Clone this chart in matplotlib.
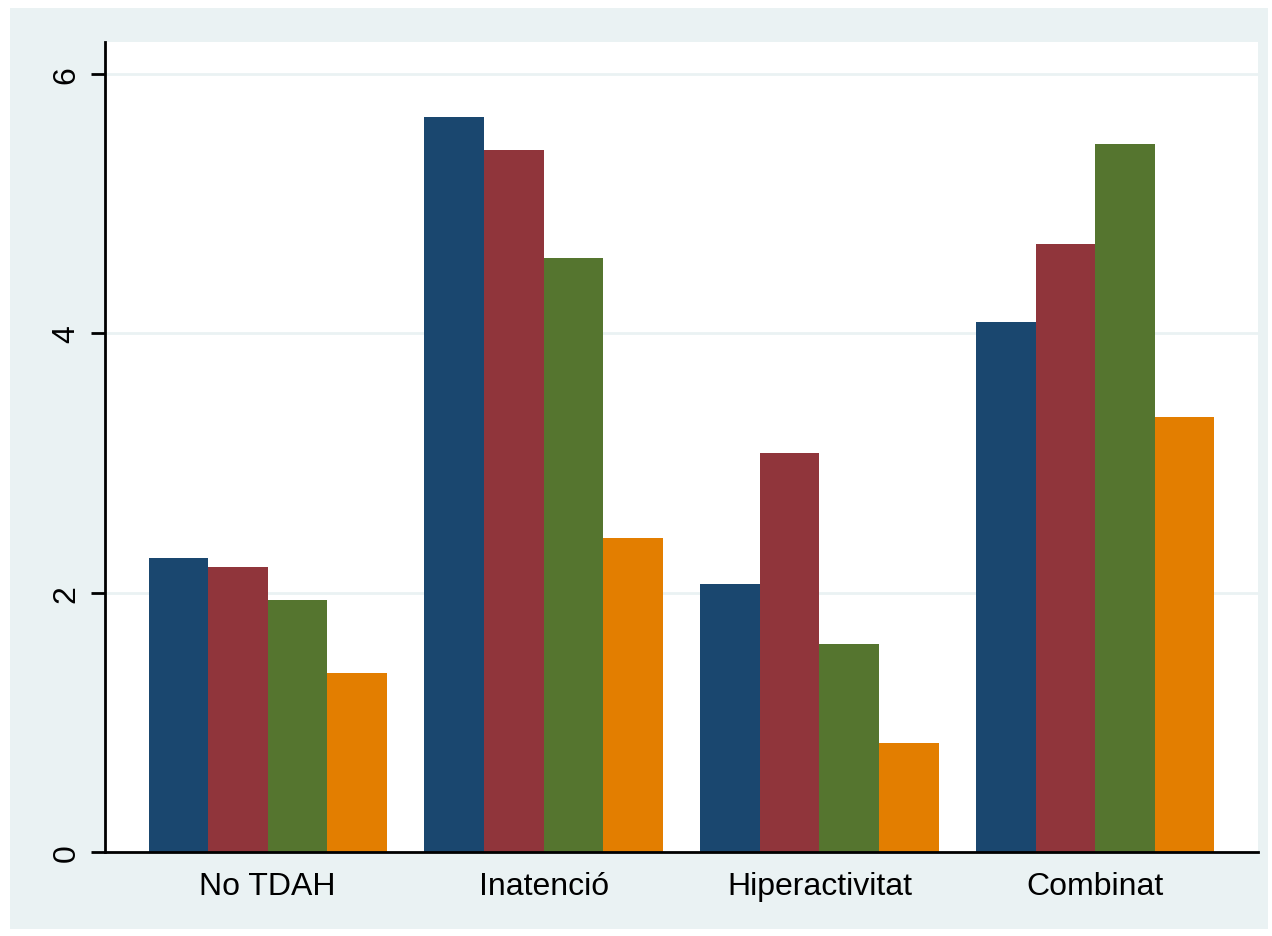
import matplotlib.pyplot as plt
from matplotlib.patches import Rectangle
import numpy as np

plt.rcParams['font.family'] = ['Liberation Sans', 'DejaVu Sans']

categories = ["No TDAH", "Inatenció", "Hiperactivitat", "Combinat"]
serie_1 = [2.27, 5.67, 2.07, 4.09]
serie_2 = [2.20, 5.41, 3.08, 4.69]
serie_3 = [1.94, 4.58, 1.60, 5.46]
serie_4 = [1.38, 2.42, 0.84, 3.35]
series = [serie_1, serie_2, serie_3, serie_4]
colors = ["#1A476F", "#90353B", "#55752F", "#E37E00"]
yticks = [0, 2, 4, 6]

W, H = 1272, 937
fig = plt.figure(figsize=(W / 100, H / 100), dpi=100)
fig.patch.set_facecolor("white")
fig.patches.append(Rectangle((10 / W, 7 / H), 1258 / W, 921 / H,
                             transform=fig.transFigure, facecolor="#EAF2F3",
                             edgecolor="none", zorder=-10))

ax = fig.add_axes([105 / W, (H - 853) / H, (1258 - 105) / W, (853 - 43) / H])
ax.set_facecolor("white")

x = np.arange(len(categories))
width = 0.216
for i, (vals, c) in enumerate(zip(series, colors)):
    ax.bar(x + (i - 1.5) * width, vals, width=width, color=c,
           edgecolor="none", zorder=2)

ax.set_xlim(-0.59, 3.59)
ax.set_ylim(0, 6.245)
ax.set_yticks(yticks)
ax.set_yticklabels([str(t) for t in yticks], rotation=90, va="center",
                   fontsize=23)
ax.set_xticks(x)
ax.set_xticklabels(categories, fontsize=23)
ax.tick_params(axis="x", length=0, pad=14)
ax.tick_params(axis="y", length=10, width=2, pad=7)
ax.yaxis.grid(True, color="#EAF2F3", linewidth=2, zorder=1)
ax.set_axisbelow(True)

for s in ["top", "right"]:
    ax.spines[s].set_visible(False)
for s in ["left", "bottom"]:
    ax.spines[s].set_linewidth(2)
    ax.spines[s].set_zorder(3)

fig.savefig("out.png", dpi=100)
